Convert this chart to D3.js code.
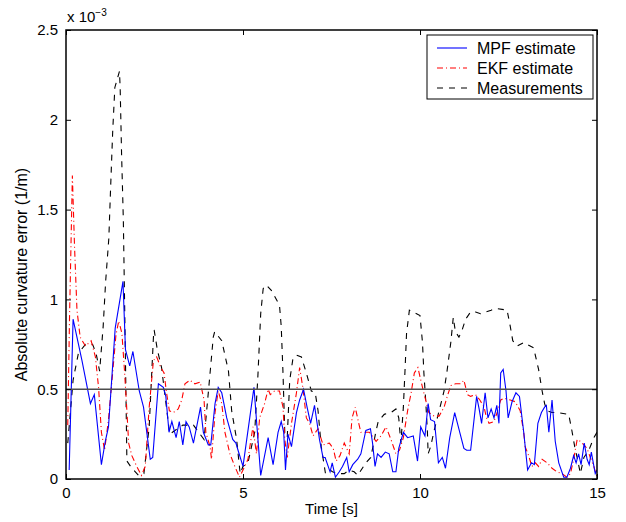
<!DOCTYPE html>
<html>
<head>
<meta charset="utf-8">
<script src="https://cdn.jsdelivr.net/npm/d3@7"></script>
<style>
body { margin: 0; background: #fff; }
text { font-family: "Liberation Sans", Arial, sans-serif; }
</style>
</head>
<body>
<script>
// values are in units of 1e-3 (1/m)
var mpfT = [0.09,0.2,0.45,0.69,0.8,1.0,1.11,1.2,1.39,1.61,1.68,1.8,1.89,2.07,2.19,2.38,2.45,2.61,2.75,2.82,2.91,2.99,3.11,3.2,3.3,3.39,3.48,3.6,3.8,3.88,4.02,4.09,4.21,4.3,4.4,4.54,4.71,4.8,4.86,5.0,5.31,5.5,5.71,5.85,5.99,6.08,6.15,6.2,6.27,6.37,6.51,6.6,6.71,6.81,6.91,7.02,7.16,7.26,7.32,7.46,7.52,7.61,7.72,7.81,7.93,8.0,8.1,8.24,8.33,8.47,8.6,8.66,8.73,8.8,8.9,9.02,9.13,9.23,9.32,9.4,9.53,9.65,9.81,9.93,10.02,10.14,10.23,10.3,10.41,10.52,10.63,10.72,10.84,10.98,11.24,11.32,11.43,11.6,11.67,11.74,11.84,11.92,12.01,12.09,12.17,12.23,12.28,12.35,12.43,12.49,12.6,12.71,12.81,12.93,13.04,13.15,13.23,13.33,13.43,13.52,13.57,13.64,13.73,13.82,13.92,14.06,14.15,14.25,14.34,14.41,14.48,14.55,14.64,14.72,14.78,14.84,14.95,15.0];
var mpfV = [0.05,0.89,0.66,0.42,0.47,0.08,0.21,0.29,0.84,1.1,0.72,0.63,0.71,0.49,0.4,0.11,0.12,0.53,0.51,0.46,0.26,0.32,0.23,0.32,0.19,0.32,0.29,0.2,0.4,0.26,0.19,0.19,0.42,0.51,0.48,0.34,0.22,0.2,0.16,0.07,0.51,0.02,0.23,0.08,0.26,0.32,0.26,0.05,0.25,0.18,0.37,0.44,0.5,0.4,0.31,0.41,0.22,0.12,0.12,0.04,0.09,0.01,0.04,0.07,0.12,0.04,0.08,0.11,0.14,0.27,0.28,0.2,0.07,0.14,0.12,0.15,0.14,0.04,0.04,0.17,0.26,0.23,0.24,0.1,0.29,0.24,0.42,0.33,0.32,0.09,0.12,0.06,0.23,0.37,0.17,0.16,0.16,0.46,0.39,0.31,0.48,0.34,0.39,0.34,0.41,0.31,0.59,0.61,0.49,0.34,0.43,0.48,0.46,0.26,0.05,0.09,0.08,0.31,0.37,0.4,0.41,0.26,0.44,0.21,0.09,0.01,0.01,0.06,0.13,0.09,0.14,0.08,0.2,0.11,0.08,0.15,0.03,0.05];

var ekfT = [0.05,0.1,0.18,0.24,0.31,0.4,0.55,0.71,0.83,0.92,1.0,1.09,1.2,1.3,1.41,1.49,1.58,1.65,1.72,1.77,1.86,2.0,2.13,2.24,2.35,2.47,2.56,2.68,2.77,2.84,2.92,3.03,3.17,3.27,3.36,3.5,3.64,3.79,3.9,3.95,4.07,4.11,4.21,4.3,4.4,4.49,4.63,4.77,4.9,5.05,5.14,5.28,5.38,5.47,5.61,5.71,5.77,5.89,6.03,6.13,6.18,6.25,6.37,6.51,6.6,6.69,6.79,6.88,6.98,7.12,7.26,7.44,7.55,7.63,7.74,7.86,8.0,8.08,8.17,8.27,8.33,8.43,8.57,8.76,8.9,9.04,9.18,9.32,9.42,9.53,9.65,9.75,9.84,9.94,10.07,10.16,10.25,10.4,10.54,10.68,10.77,10.87,11.0,11.15,11.24,11.34,11.43,11.57,11.69,11.81,11.88,11.95,12.09,12.18,12.28,12.37,12.55,12.69,12.83,12.93,12.97,13.07,13.16,13.26,13.35,13.45,13.59,13.73,13.87,14.01,14.15,14.25,14.34,14.44,14.53,14.63,14.72,14.81,14.91,15.0];
var ekfV = [0.3,0.9,1.69,1.3,0.94,0.79,0.74,0.77,0.68,0.51,0.26,0.16,0.33,0.55,0.8,0.88,0.81,0.61,0.38,0.2,0.13,0.07,0.02,0.07,0.4,0.66,0.68,0.62,0.59,0.48,0.38,0.37,0.39,0.44,0.53,0.55,0.53,0.54,0.44,0.26,0.18,0.11,0.37,0.49,0.42,0.26,0.14,0.07,0.01,0.07,0.11,0.29,0.14,0.34,0.42,0.5,0.47,0.49,0.49,0.4,0.22,0.12,0.31,0.48,0.62,0.51,0.34,0.31,0.24,0.28,0.19,0.2,0.17,0.1,0.13,0.2,0.14,0.34,0.4,0.31,0.26,0.26,0.26,0.21,0.24,0.29,0.22,0.14,0.16,0.23,0.38,0.48,0.59,0.62,0.51,0.44,0.37,0.35,0.35,0.4,0.46,0.52,0.53,0.53,0.55,0.47,0.46,0.47,0.44,0.4,0.34,0.31,0.32,0.37,0.44,0.45,0.44,0.43,0.38,0.26,0.18,0.13,0.07,0.09,0.07,0.11,0.09,0.06,0.04,0.03,0.01,0.03,0.11,0.22,0.21,0.19,0.17,0.12,0.07,0.01];

var measT = [0.05,0.2,0.35,0.55,0.75,0.85,0.95,1.05,1.12,1.21,1.26,1.32,1.38,1.51,1.53,1.57,1.62,1.68,1.72,1.86,2.05,2.2,2.35,2.47,2.49,2.58,2.7,2.93,3.3,3.6,3.9,4.07,4.16,4.2,4.4,4.59,4.68,4.82,4.92,5.0,5.14,5.33,5.42,5.5,5.57,5.66,5.8,5.97,6.03,6.08,6.13,6.18,6.25,6.32,6.41,6.51,6.65,6.79,6.93,7.04,7.12,7.21,7.33,7.45,7.53,7.67,7.86,8.0,8.14,8.24,8.47,8.61,8.76,8.82,8.99,9.18,9.32,9.4,9.46,9.53,9.58,9.62,9.7,10.0,10.07,10.11,10.16,10.21,10.23,10.3,10.4,10.54,10.68,10.77,10.87,10.94,11.0,11.1,11.19,11.29,11.43,11.57,11.71,11.86,12.01,12.14,12.46,12.55,12.62,12.74,12.93,13.21,13.35,13.45,13.52,13.59,13.73,13.87,14.2,14.29,14.37,14.46,14.53,14.63,14.77,14.91,15.0];
var measV = [0.2,0.55,0.7,0.75,0.75,0.7,0.6,0.85,1.1,1.34,1.62,1.94,2.18,2.27,2.18,1.81,1.44,0.66,0.1,0.06,0.02,0.03,0.29,0.79,0.83,0.72,0.62,0.25,0.3,0.3,0.22,0.59,0.79,0.82,0.77,0.6,0.38,0.22,0.03,0.07,0.09,0.26,0.57,0.92,1.06,1.08,1.05,0.99,0.97,0.85,0.59,0.26,0.23,0.55,0.67,0.69,0.68,0.59,0.49,0.48,0.38,0.18,0.03,0.05,0.04,0.03,0.03,0.05,0.04,0.02,0.09,0.12,0.27,0.32,0.36,0.37,0.39,0.34,0.2,0.4,0.62,0.81,0.94,0.91,0.76,0.59,0.44,0.26,0.14,0.18,0.27,0.38,0.49,0.61,0.76,0.9,0.82,0.79,0.83,0.89,0.93,0.93,0.92,0.93,0.94,0.95,0.94,0.85,0.77,0.74,0.76,0.73,0.61,0.49,0.42,0.38,0.37,0.37,0.36,0.27,0.18,0.1,0.03,0.12,0.16,0.23,0.26];

var refLevel = 0.5;
var xTicks = [0, 5, 10, 15];
var yTicks = [0, 0.5, 1, 1.5, 2, 2.5];
var legendNames = ["MPF estimate", "EKF estimate", "Measurements"];

var W = 626, H = 522;
var margin = {top: 30, right: 29, bottom: 43, left: 66};
var width = W - margin.left - margin.right,
    height = H - margin.top - margin.bottom;

var x = d3.scaleLinear().domain([0, 15]).range([0, width]);
var y = d3.scaleLinear().domain([0, 2.5]).range([height, 0]);

var svg = d3.select("body").append("svg")
    .attr("width", W)
    .attr("height", H);

var g = svg.append("g")
    .attr("transform", "translate(" + margin.left + "," + margin.top + ")");

function zip(ts, vs) {
    return ts.map(function(t, i) { return {t: t, v: vs[i]}; });
}

var line = d3.line()
    .x(function(d) { return x(d.t); })
    .y(function(d) { return y(d.v); });

var series = [
    {name: legendNames[0], data: zip(mpfT, mpfV), color: "#0000ff", dash: null, w: 1.1},
    {name: legendNames[1], data: zip(ekfT, ekfV), color: "#ff0000", dash: "6,3,1,3", w: 1.1},
    {name: legendNames[2], data: zip(measT, measV), color: "#000000", dash: "6,6", w: 1.1}
];

// clip to plot box
svg.append("defs").append("clipPath").attr("id", "clip")
    .append("rect").attr("width", width).attr("height", height);

var plot = g.append("g").attr("clip-path", "url(#clip)");

// draw order: measurements, EKF, MPF on top
[series[2], series[1], series[0]].forEach(function(s) {
    plot.append("path")
        .datum(s.data)
        .attr("fill", "none")
        .attr("stroke", s.color)
        .attr("stroke-width", s.w)
        .attr("stroke-dasharray", s.dash)
        .attr("d", line);
});

// reference line at 0.5e-3
plot.append("line")
    .attr("x1", 0).attr("x2", width)
    .attr("y1", y(refLevel)).attr("y2", y(refLevel))
    .attr("stroke", "#4d4d4d")
    .attr("stroke-width", 1.6);

// axes, matlab style ticks inside
var tickLen = 5;
g.append("g")
    .attr("transform", "translate(0," + height + ")")
    .call(d3.axisBottom(x).tickValues(xTicks).tickSize(-tickLen).tickPadding(8).tickFormat(d3.format("d")))
    .call(function(a) { a.select(".domain").remove(); });
g.append("g")
    .call(d3.axisTop(x).tickValues(xTicks).tickSize(-tickLen).tickFormat(""))
    .call(function(a) { a.select(".domain").remove(); });
g.append("g")
    .call(d3.axisLeft(y).tickValues(yTicks).tickSize(-tickLen).tickPadding(8).tickFormat(function(d) { return d; }))
    .call(function(a) { a.select(".domain").remove(); });
g.append("g")
    .attr("transform", "translate(" + width + ",0)")
    .call(d3.axisRight(y).tickValues(yTicks).tickSize(-tickLen).tickFormat(""))
    .call(function(a) { a.select(".domain").remove(); });

g.selectAll(".tick text")
    .attr("font-size", 15)
    .attr("fill", "#000")
    .style("font-family", "Liberation Sans, Arial, sans-serif");
g.selectAll(".tick line").attr("stroke", "#000");

g.append("rect")
    .attr("width", width).attr("height", height)
    .attr("fill", "none")
    .attr("stroke", "#000")
    .attr("stroke-width", 1.5);

// exponent label
var ex = g.append("text")
    .attr("x", 1).attr("y", -8)
    .attr("font-size", 15);
ex.append("tspan").text("x 10");
ex.append("tspan").attr("dy", -6).attr("font-size", 10).text("\u22123");

// axis titles
svg.append("text")
    .attr("x", margin.left + width / 2)
    .attr("y", 514)
    .attr("text-anchor", "middle")
    .attr("font-size", 15)
    .text("Time [s]");

svg.append("text")
    .attr("transform", "translate(27," + (margin.top + height / 2 + 20) + ") rotate(-90)")
    .attr("text-anchor", "middle")
    .attr("font-size", 16)
    .text("Absolute curvature error (1/m)");

// legend
var lg = svg.append("g").attr("transform", "translate(427,35)");
lg.append("rect")
    .attr("width", 166).attr("height", 64)
    .attr("fill", "#fff")
    .attr("stroke", "#000")
    .attr("stroke-width", 1);

series.forEach(function(s, i) {
    var yy = 13 + i * 20;
    lg.append("line")
        .attr("x1", 10).attr("x2", 40)
        .attr("y1", yy).attr("y2", yy)
        .attr("stroke", s.color)
        .attr("stroke-width", s.w)
        .attr("stroke-dasharray", s.dash);
    lg.append("text")
        .attr("x", 50).attr("y", yy + 5.5)
        .attr("font-size", 16)
        .text(s.name);
});
</script>
</body>
</html>
